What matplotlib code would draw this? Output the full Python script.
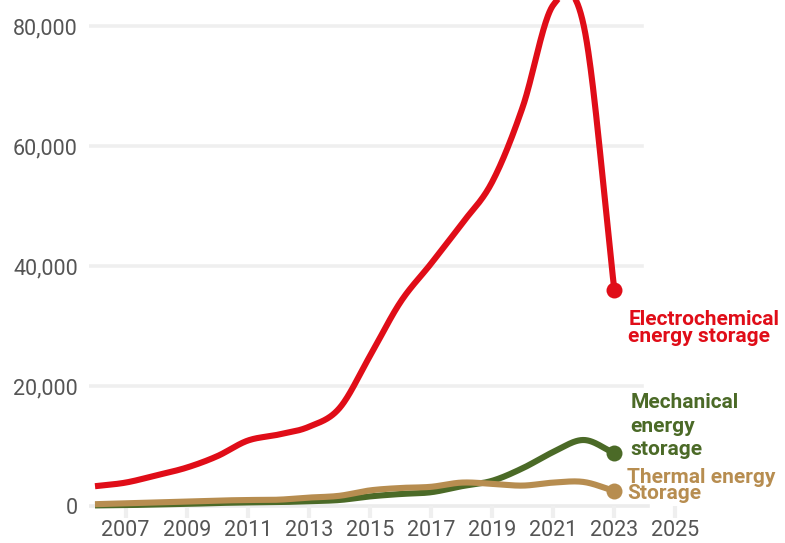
import numpy as np
import matplotlib
matplotlib.use("Agg")
import matplotlib.pyplot as plt
from matplotlib.ticker import FuncFormatter

plt.rcParams["font.family"] = ["Roboto", "DejaVu Sans"]

# Annual values by storage technology
years = list(range(2006, 2024))
electrochemical = [3300, 3900, 5100, 6400, 8300, 10900, 11900, 13200, 16300, 25000,
                   34000, 40400, 47000, 54000, 66500, 83500, 80000, 36000]
mechanical = [100, 150, 250, 350, 500, 600, 650, 800, 1000, 1600,
              2000, 2300, 3300, 4200, 6300, 9000, 11000, 8800]
thermal = [300, 450, 600, 750, 900, 1000, 1050, 1400, 1700, 2600,
           3000, 3200, 3900, 3700, 3400, 3900, 4000, 2500]

series_names = ["Electrochemical\nenergy storage", "Mechanical\nenergy\nstorage",
                "Thermal energy\nStorage"]
x_tick_years = list(range(2007, 2026, 2))
y_ticks = [0, 20000, 40000, 60000, 80000]

RED = "#e00d18"
GREEN = "#4b6a27"
TAN = "#b78d50"
GRID = "#efefef"


def catmull_rom(x, y, n=40):
    """Smooth curve through the points (uniform Catmull-Rom)."""
    x = np.asarray(x, float)
    y = np.asarray(y, float)
    m = np.empty_like(y)
    m[1:-1] = (y[2:] - y[:-2]) / 2.0
    m[0] = y[1] - y[0]
    m[-1] = y[-1] - y[-2]
    xs, ys = [], []
    t = np.linspace(0, 1, n, endpoint=False)
    h00 = 2 * t**3 - 3 * t**2 + 1
    h10 = t**3 - 2 * t**2 + t
    h01 = -2 * t**3 + 3 * t**2
    h11 = t**3 - t**2
    for i in range(len(x) - 1):
        dx = x[i + 1] - x[i]
        xs.append(x[i] + t * dx)
        ys.append(h00 * y[i] + h10 * m[i] + h01 * y[i + 1] + h11 * m[i + 1])
    xs.append([x[-1]])
    ys.append([y[-1]])
    return np.concatenate(xs), np.concatenate(ys)


fig = plt.figure(figsize=(7.85, 5.43), dpi=100)
ax = fig.add_axes([89 / 785, 25 / 543, 611 / 785, 518 / 543])

px_per_year = 30.55
ax.set_xlim(2006 - 6 / px_per_year, 2006 + (700 - 95) / px_per_year)
ax.set_ylim(-2000, 84333)

# Horizontal grid and baseline
for v in y_ticks[1:]:
    ax.axhline(v, xmin=0, xmax=0.905, color=GRID, lw=2.6, zorder=0)
ax.axhline(0, xmin=0, xmax=0.915, color="#ececec", lw=2.6, zorder=0)

lw = 4.4
for vals, color, z in [(mechanical, GREEN, 2), (thermal, TAN, 3), (electrochemical, RED, 4)]:
    cx, cy = catmull_rom(years, vals)
    ax.plot(cx, cy, color=color, lw=lw, solid_capstyle="butt",
            solid_joinstyle="round", zorder=z)
    ax.plot(years[-1], vals[-1], "o", color=color, ms=11.5, mec="none", zorder=z)

# End-of-line labels
label_offsets = [(14, -38, 0.85), (16, 27, 1.3), (13, 5, 0.8)]
for name, vals, color, (dx, dy, ls) in zip(series_names,
                                           [electrochemical, mechanical, thermal],
                                           [RED, GREEN, TAN], label_offsets):
    ax.annotate(name, xy=(years[-1], vals[-1]), xytext=(dx, dy),
                textcoords="offset pixels", ha="left", va="center",
                fontsize=15, fontweight="bold", color=color,
                linespacing=ls, annotation_clip=False, zorder=6)

for s in ax.spines.values():
    s.set_visible(False)

ax.set_xticks(x_tick_years)
ax.set_xticklabels([str(y) for y in x_tick_years])
ax.set_yticks(y_ticks)
ax.yaxis.set_major_formatter(FuncFormatter(lambda v, p: f"{int(v):,}"))
ax.tick_params(axis="y", length=0, pad=8, labelsize=15.5, labelcolor="#555555")
ax.tick_params(axis="x", direction="in", length=9, width=3, color=GRID,
               pad=1.5, labelsize=15.5, labelcolor="#555555")

fig.savefig("out.png", dpi=100)
